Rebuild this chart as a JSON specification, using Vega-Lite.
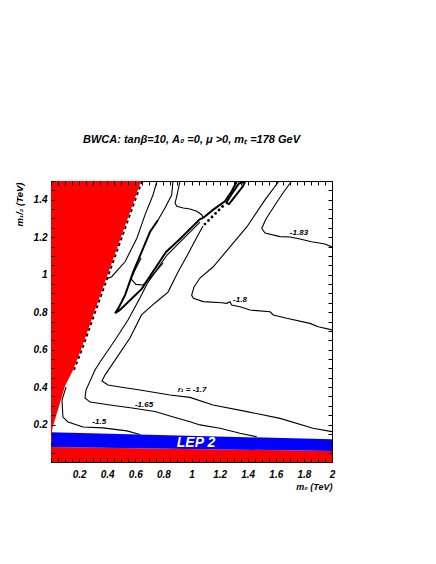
{
  "$schema": "https://vega.github.io/schema/vega-lite/v6.json",
  "width": 281,
  "height": 281,
  "autosize": "none",
  "padding": {"left": 51, "top": 181, "right": 104, "bottom": 102},
  "background": "white",
  "config": {"view": {"stroke": "black", "strokeWidth": 1}, "font": "Liberation Sans"},
  "title": {"text": "BWCA:  tanβ=10, A₀ =0, μ >0, mₜ =178 GeV", "font": "Liberation Sans", "fontSize": 11, "fontWeight": "bold", "fontStyle": "italic", "anchor": "middle", "frame": "group", "baseline": "alphabetic", "offset": 22, "color": "black"},
  "datasets": {
    "bands": [
      {"band": "lower", "x": 0, "lo": 0, "hi": 0.080},
      {"band": "lower", "x": 2, "lo": 0, "hi": 0.059},
      {"band": "lep", "x": 0, "lo": 0.080, "hi": 0.159},
      {"band": "lep", "x": 2, "lo": 0.059, "hi": 0.121}
    ],
    "wedge": [
      {"y": 0.10, "x0": 0, "xe": 0.005},
      {"y": 0.171, "x0": 0, "xe": 0.007},
      {"y": 0.208, "x0": 0, "xe": 0.021},
      {"y": 0.406, "x0": 0, "xe": 0.100},
      {"y": 0.491, "x0": 0, "xe": 0.157},
      {"y": 0.615, "x0": 0, "xe": 0.221},
      {"y": 0.811, "x0": 0, "xe": 0.313},
      {"y": 1.5, "x0": 0, "xe": 0.641}
    ],
    "edge": [
      {"i": 0, "x": 0.648, "y": 1.5},
      {"i": 1, "x": 0.320, "y": 0.811},
      {"i": 2, "x": 0.228, "y": 0.615},
      {"i": 3, "x": 0.164, "y": 0.491}
    ],
    "contours": [
      {"c": "c150", "i": 0, "x": 0.107, "y": 0.400},
      {"c": "c150", "i": 1, "x": 0.078, "y": 0.331},
      {"c": "c150", "i": 2, "x": 0.085, "y": 0.240},
      {"c": "c150", "i": 3, "x": 0.121, "y": 0.214},
      {"c": "c150", "i": 4, "x": 0.228, "y": 0.187},
      {"c": "c150", "i": 5, "x": 0.370, "y": 0.182},
      {"c": "c150", "i": 6, "x": 0.541, "y": 0.166},
      {"c": "c150", "i": 7, "x": 0.633, "y": 0.147},

      {"c": "c165", "i": 0, "x": 1.464, "y": 0.135},
      {"c": "c165", "i": 1, "x": 1.345, "y": 0.153},
      {"c": "c165", "i": 2, "x": 1.203, "y": 0.180},
      {"c": "c165", "i": 3, "x": 1.060, "y": 0.198},
      {"c": "c165", "i": 4, "x": 0.989, "y": 0.215},
      {"c": "c165", "i": 5, "x": 0.847, "y": 0.246},
      {"c": "c165", "i": 6, "x": 0.740, "y": 0.270},
      {"c": "c165", "i": 7, "x": 0.577, "y": 0.288},
      {"c": "c165", "i": 8, "x": 0.420, "y": 0.304},
      {"c": "c165", "i": 9, "x": 0.278, "y": 0.320},
      {"c": "c165", "i": 10, "x": 0.242, "y": 0.342},
      {"c": "c165", "i": 11, "x": 0.249, "y": 0.384},
      {"c": "c165", "i": 12, "x": 0.313, "y": 0.491},
      {"c": "c165", "i": 13, "x": 0.349, "y": 0.534},
      {"c": "c165", "i": 14, "x": 0.456, "y": 0.651},
      {"c": "c165", "i": 15, "x": 0.548, "y": 0.758},
      {"c": "c165", "i": 16, "x": 0.633, "y": 0.875},
      {"c": "c165", "i": 17, "x": 0.683, "y": 0.950},
      {"c": "c165", "i": 18, "x": 0.762, "y": 1.036},
      {"c": "c165", "i": 19, "x": 0.826, "y": 1.105},
      {"c": "c165", "i": 20, "x": 0.918, "y": 1.174},
      {"c": "c165", "i": 21, "x": 1.060, "y": 1.281},

      {"c": "c170", "i": 0, "x": 2.0, "y": 0.162},
      {"c": "c170", "i": 1, "x": 1.865, "y": 0.180},
      {"c": "c170", "i": 2, "x": 1.630, "y": 0.233},
      {"c": "c170", "i": 3, "x": 1.395, "y": 0.269},
      {"c": "c170", "i": 4, "x": 1.153, "y": 0.304},
      {"c": "c170", "i": 5, "x": 0.989, "y": 0.345},
      {"c": "c170", "i": 6, "x": 0.847, "y": 0.358},
      {"c": "c170", "i": 7, "x": 0.633, "y": 0.384},
      {"c": "c170", "i": 8, "x": 0.491, "y": 0.400},
      {"c": "c170", "i": 9, "x": 0.406, "y": 0.411},
      {"c": "c170", "i": 10, "x": 0.363, "y": 0.432},
      {"c": "c170", "i": 11, "x": 0.384, "y": 0.464},
      {"c": "c170", "i": 12, "x": 0.562, "y": 0.662},
      {"c": "c170", "i": 13, "x": 0.644, "y": 0.785},
      {"c": "c170", "i": 14, "x": 0.740, "y": 0.849},
      {"c": "c170", "i": 15, "x": 0.833, "y": 0.907},
      {"c": "c170", "i": 16, "x": 0.904, "y": 1.014},
      {"c": "c170", "i": 17, "x": 0.975, "y": 1.110},
      {"c": "c170", "i": 18, "x": 1.039, "y": 1.201},
      {"c": "c170", "i": 19, "x": 1.082, "y": 1.260},

      {"c": "c180", "i": 0, "x": 1.623, "y": 1.5},
      {"c": "c180", "i": 1, "x": 1.523, "y": 1.399},
      {"c": "c180", "i": 2, "x": 1.395, "y": 1.256},
      {"c": "c180", "i": 3, "x": 1.274, "y": 1.148},
      {"c": "c180", "i": 4, "x": 1.153, "y": 1.041},
      {"c": "c180", "i": 5, "x": 1.060, "y": 0.982},
      {"c": "c180", "i": 6, "x": 1.018, "y": 0.934},
      {"c": "c180", "i": 7, "x": 1.001, "y": 0.891},
      {"c": "c180", "i": 8, "x": 1.013, "y": 0.874},
      {"c": "c180", "i": 9, "x": 1.084, "y": 0.856},
      {"c": "c180", "i": 10, "x": 1.215, "y": 0.850},
      {"c": "c180", "i": 11, "x": 1.251, "y": 0.847},
      {"c": "c180", "i": 12, "x": 1.274, "y": 0.856},
      {"c": "c180", "i": 13, "x": 1.286, "y": 0.838},
      {"c": "c180", "i": 14, "x": 1.345, "y": 0.829},
      {"c": "c180", "i": 15, "x": 1.416, "y": 0.811},
      {"c": "c180", "i": 16, "x": 1.559, "y": 0.802},
      {"c": "c180", "i": 17, "x": 1.582, "y": 0.785},
      {"c": "c180", "i": 18, "x": 1.678, "y": 0.767},
      {"c": "c180", "i": 19, "x": 1.843, "y": 0.740},
      {"c": "c180", "i": 20, "x": 1.902, "y": 0.722},
      {"c": "c180", "i": 21, "x": 2.0, "y": 0.705},

      {"c": "c183", "i": 0, "x": 1.713, "y": 1.5},
      {"c": "c183", "i": 1, "x": 1.651, "y": 1.436},
      {"c": "c183", "i": 2, "x": 1.594, "y": 1.372},
      {"c": "c183", "i": 3, "x": 1.530, "y": 1.297},
      {"c": "c183", "i": 4, "x": 1.500, "y": 1.248},
      {"c": "c183", "i": 5, "x": 1.523, "y": 1.222},
      {"c": "c183", "i": 6, "x": 1.630, "y": 1.203},
      {"c": "c183", "i": 7, "x": 1.701, "y": 1.201},
      {"c": "c183", "i": 8, "x": 1.772, "y": 1.190},
      {"c": "c183", "i": 9, "x": 1.855, "y": 1.176},
      {"c": "c183", "i": 10, "x": 1.950, "y": 1.164},
      {"c": "c183", "i": 11, "x": 2.0, "y": 1.148},

      {"c": "l1", "i": 0, "x": 0.754, "y": 1.5},
      {"c": "l1", "i": 1, "x": 0.726, "y": 1.425},
      {"c": "l1", "i": 2, "x": 0.669, "y": 1.319},
      {"c": "l1", "i": 3, "x": 0.612, "y": 1.196},
      {"c": "l1", "i": 4, "x": 0.527, "y": 1.069},
      {"c": "l1", "i": 5, "x": 0.432, "y": 0.989},
      {"c": "l1", "i": 6, "x": 0.398, "y": 0.978},

      {"c": "l2", "i": 0, "x": 0.868, "y": 1.5},
      {"c": "l2", "i": 1, "x": 0.859, "y": 1.425},
      {"c": "l2", "i": 2, "x": 0.811, "y": 1.356},
      {"c": "l2", "i": 3, "x": 0.762, "y": 1.292},

      {"c": "l3", "i": 0, "x": 0.918, "y": 1.5},
      {"c": "l3", "i": 1, "x": 0.897, "y": 1.425},
      {"c": "l3", "i": 2, "x": 0.883, "y": 1.383},
      {"c": "l3", "i": 3, "x": 0.895, "y": 1.365},
      {"c": "l3", "i": 4, "x": 0.942, "y": 1.356},
      {"c": "l3", "i": 5, "x": 0.989, "y": 1.351},
      {"c": "l3", "i": 6, "x": 1.037, "y": 1.338},
      {"c": "l3", "i": 7, "x": 1.073, "y": 1.320},
      {"c": "l3", "i": 8, "x": 1.084, "y": 1.302},

      {"c": "v", "i": 0, "x": 0.641, "y": 1.089},
      {"c": "v", "i": 1, "x": 0.591, "y": 1.014},
      {"c": "v", "i": 2, "x": 0.569, "y": 0.977},
      {"c": "v", "i": 3, "x": 0.605, "y": 0.948},
      {"c": "v", "i": 4, "x": 0.655, "y": 0.945},
      {"c": "v", "i": 5, "x": 0.705, "y": 0.982},
      {"c": "v", "i": 6, "x": 0.797, "y": 1.062}
    ],
    "thick": [
      {"c": "loop", "i": 0, "x": 0.762, "y": 1.292},
      {"c": "loop", "i": 1, "x": 0.705, "y": 1.229},
      {"c": "loop", "i": 2, "x": 0.646, "y": 1.123},
      {"c": "loop", "i": 3, "x": 0.586, "y": 1.016},
      {"c": "loop", "i": 4, "x": 0.527, "y": 0.891},
      {"c": "loop", "i": 5, "x": 0.479, "y": 0.820},
      {"c": "loop", "i": 6, "x": 0.456, "y": 0.794},
      {"c": "loop", "i": 7, "x": 0.491, "y": 0.811},
      {"c": "loop", "i": 8, "x": 0.586, "y": 0.881},
      {"c": "loop", "i": 9, "x": 0.646, "y": 0.924},
      {"c": "loop", "i": 10, "x": 0.705, "y": 0.993},
      {"c": "loop", "i": 11, "x": 0.819, "y": 1.121},
      {"c": "loop", "i": 12, "x": 0.918, "y": 1.190},
      {"c": "loop", "i": 13, "x": 1.060, "y": 1.297},
      {"c": "loop", "i": 14, "x": 1.082, "y": 1.302},

      {"c": "upA", "i": 0, "x": 1.082, "y": 1.302},
      {"c": "upA", "i": 1, "x": 1.155, "y": 1.347},
      {"c": "upA", "i": 2, "x": 1.238, "y": 1.392},
      {"c": "upA", "i": 3, "x": 1.286, "y": 1.445},
      {"c": "upA", "i": 4, "x": 1.324, "y": 1.5},

      {"c": "upB", "i": 0, "x": 1.246, "y": 1.383},
      {"c": "upB", "i": 1, "x": 1.295, "y": 1.441},
      {"c": "upB", "i": 2, "x": 1.338, "y": 1.487},
      {"c": "upB", "i": 3, "x": 1.381, "y": 1.497},
      {"c": "upB", "i": 4, "x": 1.367, "y": 1.473},
      {"c": "upB", "i": 5, "x": 1.317, "y": 1.425},
      {"c": "upB", "i": 6, "x": 1.267, "y": 1.377},
      {"c": "upB", "i": 7, "x": 1.246, "y": 1.383}
    ],
    "dots": [
      {"x": 1.096, "y": 1.270},
      {"x": 1.121, "y": 1.289},
      {"x": 1.146, "y": 1.308},
      {"x": 1.171, "y": 1.327},
      {"x": 1.196, "y": 1.345},
      {"x": 1.221, "y": 1.364}
    ],
    "labels": [
      {"x": 0.343, "y": 0.215, "t": "-1.5"},
      {"x": 0.662, "y": 0.302, "t": "-1.65"},
      {"x": 1.004, "y": 0.384, "t": "r₁ = -1.7"},
      {"x": 1.345, "y": 0.865, "t": "-1.8"},
      {"x": 1.765, "y": 1.222, "t": "-1.83"}
    ],
    "lep": [
      {"x": 1.032, "y": 0.101, "t": "LEP 2"}
    ]
  },
  "layer": [
    {
      "data": {"name": "bands"},
      "mark": {"type": "area", "orient": "vertical"},
      "encoding": {
        "x": {"field": "x", "type": "quantitative", "scale": {"domain": [0, 2], "nice": false, "zero": false},
          "axis": {"orient": "bottom", "zindex": 1,
            "values": [0,0.05,0.1,0.15,0.2,0.25,0.3,0.35,0.4,0.45,0.5,0.55,0.6,0.65,0.7,0.75,0.8,0.85,0.9,0.95,1,1.05,1.1,1.15,1.2,1.25,1.3,1.35,1.4,1.45,1.5,1.55,1.6,1.65,1.7,1.75,1.8,1.85,1.9,1.95,2],
            "domain": false, "grid": false, "tickSize": -4, "tickColor": "black", "tickWidth": 1,
            "labelPadding": 11, "labelFlush": false, "labelOverlap": false,
            "labelExpr": "(round(datum.value*100) % 20 == 0 && datum.value > 0.01) ? format(datum.value, '~g') : ''",
            "labelFont": "Liberation Sans", "labelFontSize": 10, "labelFontWeight": "bold", "labelFontStyle": "italic", "labelColor": "black",
            "title": "m₀ (TeV)", "titleX": 281, "titleY": 27, "titleAlign": "right", "titleBaseline": "alphabetic",
            "titleFont": "Liberation Sans", "titleFontSize": 9, "titleFontWeight": "bold", "titleFontStyle": "italic", "titleColor": "black",
            "encoding": {"ticks": {"update": {"y2": {"signal": "(round(datum.value*100) % 20 == 0) ? -7 : -3.5"}}}}
          }},
        "y": {"field": "lo", "type": "quantitative", "scale": {"domain": [0, 1.5], "nice": false, "zero": false},
          "axis": {"orient": "left", "zindex": 1,
            "values": [0,0.05,0.1,0.15,0.2,0.25,0.3,0.35,0.4,0.45,0.5,0.55,0.6,0.65,0.7,0.75,0.8,0.85,0.9,0.95,1,1.05,1.1,1.15,1.2,1.25,1.3,1.35,1.4,1.45,1.5],
            "domain": false, "grid": false, "tickSize": -4, "tickColor": "black", "tickWidth": 1,
            "labelPadding": 8, "labelFlush": false, "labelOverlap": false,
            "labelExpr": "(round(datum.value*100) % 20 == 0 && datum.value > 0.01) ? format(datum.value, '~g') : ''",
            "labelFont": "Liberation Sans", "labelFontSize": 10, "labelFontWeight": "bold", "labelFontStyle": "italic", "labelColor": "black",
            "title": "m₁/₂ (TeV)", "titleX": -32, "titleY": 1, "titleAngle": 270, "titleAlign": "right", "titleBaseline": "middle",
            "titleFont": "Liberation Sans", "titleFontSize": 9.5, "titleFontWeight": "bold", "titleFontStyle": "italic", "titleColor": "black",
            "encoding": {"ticks": {"update": {"x2": {"signal": "(round(datum.value*100) % 20 == 0) ? 7 : 3.5"}}}}
          }},
        "y2": {"field": "hi"},
        "color": {"field": "band", "type": "nominal", "scale": {"domain": ["lower", "lep"], "range": ["#ff0000", "#0000ff"]}, "legend": null}
      }
    },
    {
      "data": {"name": "wedge"},
      "mark": {"type": "area", "orient": "horizontal", "color": "#ff0000"},
      "encoding": {
        "y": {"field": "y", "type": "quantitative",
          "axis": {"orient": "right", "zindex": 1,
            "values": [0,0.05,0.1,0.15,0.2,0.25,0.3,0.35,0.4,0.45,0.5,0.55,0.6,0.65,0.7,0.75,0.8,0.85,0.9,0.95,1,1.05,1.1,1.15,1.2,1.25,1.3,1.35,1.4,1.45,1.5],
            "domain": false, "grid": false, "labels": false, "title": null, "tickSize": -4, "tickColor": "black", "tickWidth": 1,
            "encoding": {"ticks": {"update": {"x2": {"signal": "(round(datum.value*100) % 20 == 0) ? -7 : -3.5"}}}}
          }},
        "x": {"field": "x0", "type": "quantitative",
          "axis": {"orient": "top", "zindex": 1,
            "values": [0,0.05,0.1,0.15,0.2,0.25,0.3,0.35,0.4,0.45,0.5,0.55,0.6,0.65,0.7,0.75,0.8,0.85,0.9,0.95,1,1.05,1.1,1.15,1.2,1.25,1.3,1.35,1.4,1.45,1.5,1.55,1.6,1.65,1.7,1.75,1.8,1.85,1.9,1.95,2],
            "domain": false, "grid": false, "labels": false, "title": null, "tickSize": -4, "tickColor": "black", "tickWidth": 1,
            "encoding": {"ticks": {"update": {"y2": {"signal": "(round(datum.value*100) % 20 == 0) ? 7 : 3.5"}}}}
          }},
        "x2": {"field": "xe"}
      }
    },
    {
      "data": {"name": "contours"},
      "mark": {"type": "line", "color": "black", "strokeWidth": 1.1, "clip": true},
      "encoding": {
        "x": {"field": "x", "type": "quantitative", "axis": null},
        "y": {"field": "y", "type": "quantitative", "axis": null},
        "detail": {"field": "c"},
        "order": {"field": "i", "type": "quantitative"}
      }
    },
    {
      "data": {"name": "thick"},
      "mark": {"type": "line", "color": "black", "strokeWidth": 2, "clip": true},
      "encoding": {
        "x": {"field": "x", "type": "quantitative", "axis": null},
        "y": {"field": "y", "type": "quantitative", "axis": null},
        "detail": {"field": "c"},
        "order": {"field": "i", "type": "quantitative"}
      }
    },
    {
      "data": {"name": "edge"},
      "mark": {"type": "line", "color": "black", "strokeWidth": 1.8, "strokeDash": [3, 3], "clip": true},
      "encoding": {
        "x": {"field": "x", "type": "quantitative", "axis": null},
        "y": {"field": "y", "type": "quantitative", "axis": null},
        "order": {"field": "i", "type": "quantitative"}
      }
    },
    {
      "data": {"name": "dots"},
      "mark": {"type": "point", "filled": true, "color": "black", "size": 8, "opacity": 1},
      "encoding": {
        "x": {"field": "x", "type": "quantitative", "axis": null},
        "y": {"field": "y", "type": "quantitative", "axis": null}
      }
    },
    {
      "data": {"name": "labels"},
      "mark": {"type": "text", "font": "Liberation Sans", "fontSize": 8, "fontWeight": "bold", "fontStyle": "italic", "color": "black", "align": "center", "baseline": "middle"},
      "encoding": {
        "x": {"field": "x", "type": "quantitative", "axis": null},
        "y": {"field": "y", "type": "quantitative", "axis": null},
        "text": {"field": "t"}
      }
    },
    {
      "data": {"name": "lep"},
      "mark": {"type": "text", "font": "Liberation Sans", "fontSize": 14, "fontWeight": "bold", "fontStyle": "italic", "color": "white", "align": "center", "baseline": "middle"},
      "encoding": {
        "x": {"field": "x", "type": "quantitative", "axis": null},
        "y": {"field": "y", "type": "quantitative", "axis": null},
        "text": {"field": "t"}
      }
    }
  ],
  "resolve": {"axis": {"x": "independent", "y": "independent"}}
}
